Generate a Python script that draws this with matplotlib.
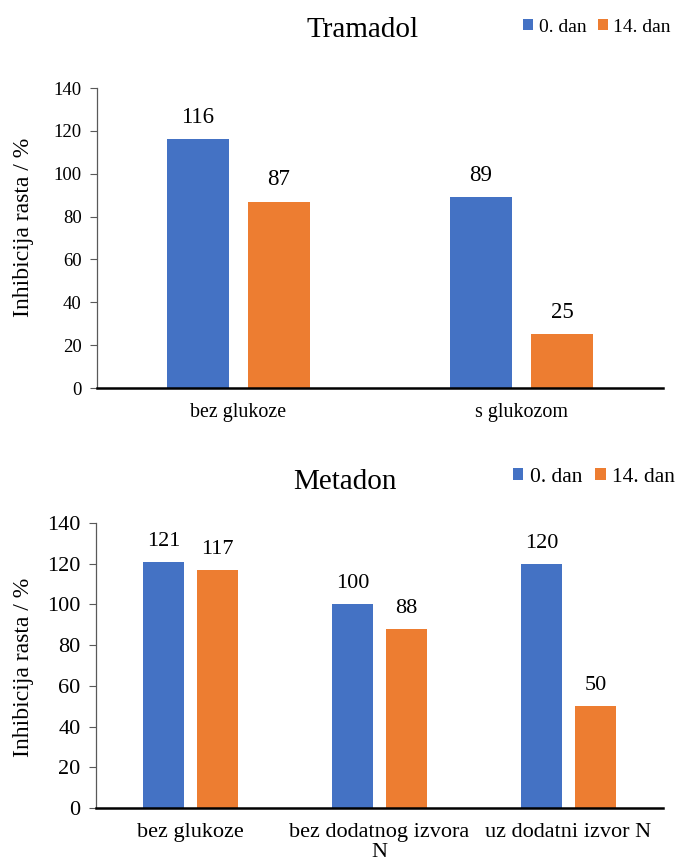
"""Growth inhibition bar charts (Tramadol / Metadon), two panels."""

import matplotlib

matplotlib.use("Agg")
import matplotlib.pyplot as plt  # noqa: E402
import numpy as np

BLUE = "#4472C4"
ORANGE = "#ED7D31"

series_labels = ["0. dan", "14. dan"]

tramadol_cats = ["bez glukoze", "s glukozom"]
tramadol_day0 = [116, 89]
tramadol_day14 = [87, 25]

metadon_cats = ["bez glukoze", "bez dodatnog izvora\nN", "uz dodatni izvor N"]
metadon_day0 = [121, 100, 120]
metadon_day14 = [117, 88, 50]

y_ticks = [0, 20, 40, 60, 80, 100, 120, 140]

plt.rcParams.update(
    {
        "font.family": ["Liberation Serif", "DejaVu Serif"],
        "axes.spines.top": False,
        "axes.spines.right": False,
    }
)

W, H = 677, 863
fig = plt.figure(figsize=(W / 100, H / 100), dpi=100)


def px_axes(left, top, right, bottom):
    return fig.add_axes([left / W, 1 - bottom / H, (right - left) / W, (bottom - top) / H])


def panel(ax, cats, d0, d14, title, title_xy, leg_xy, fs_tick, fs_x, fs_val, fs_leg, label_xy):
    x = np.arange(len(cats))
    w = 0.22
    off = 0.143
    b0 = ax.bar(x - off, d0, w, color=BLUE, label=series_labels[0])
    b1 = ax.bar(x + off, d14, w, color=ORANGE, label=series_labels[1])
    for bars, vals in ((b0, d0), (b1, d14)):
        for rect, v in zip(bars, vals):
            ax.annotate(
                f"{v}",
                (rect.get_x() + rect.get_width() / 2, rect.get_height()),
                xytext=(0, 8),
                textcoords="offset points",
                ha="center",
                va="bottom",
                fontsize=fs_val,
            )
    ax.set_xlim(-0.5, len(cats) - 0.5)
    ax.set_ylim(0, 140)
    ax.set_yticks(y_ticks)
    ax.set_xticks(x)
    ax.set_xticklabels(cats, fontsize=fs_x, linespacing=1.05)
    ax.tick_params(axis="x", length=0, pad=11)
    ax.tick_params(axis="y", length=5, width=0.8, color="#595959", labelsize=fs_tick, pad=6)
    ax.spines["left"].set_color("#595959")
    ax.spines["left"].set_linewidth(0.9)
    ax.spines["bottom"].set_color("black")
    ax.spines["bottom"].set_linewidth(1.8)
    ax.set_ylabel("Inhibicija rasta / %", fontsize=17)
    ax.yaxis.set_label_coords(*label_xy)
    fig.text(title_xy[0] / W, 1 - title_xy[1] / H, title, fontsize=21, ha="center", va="center")
    ax.legend(
        loc="center",
        bbox_to_anchor=(leg_xy[0] / W, 1 - leg_xy[1] / H),
        bbox_transform=fig.transFigure,
        ncol=2,
        frameon=False,
        fontsize=fs_leg,
        handlelength=0.5,
        handleheight=0.5,
        handletextpad=0.3,
        columnspacing=0.6,
        borderaxespad=0,
        borderpad=0,
    )


ax1 = px_axes(97, 88, 663, 388)
panel(ax1, tramadol_cats, tramadol_day0, tramadol_day14, "Tramadol", (363, 30), (597, 27),
      13.5, 14.4, 16.5, 14, (-0.111, 0.537))

ax2 = px_axes(96, 523, 663, 808)
panel(ax2, metadon_cats, metadon_day0, metadon_day14, "Metadon", (345, 482), (594, 477),
      16, 16, 16, 15.5, (-0.109, 0.495))

fig.savefig("out.png", dpi=100)
